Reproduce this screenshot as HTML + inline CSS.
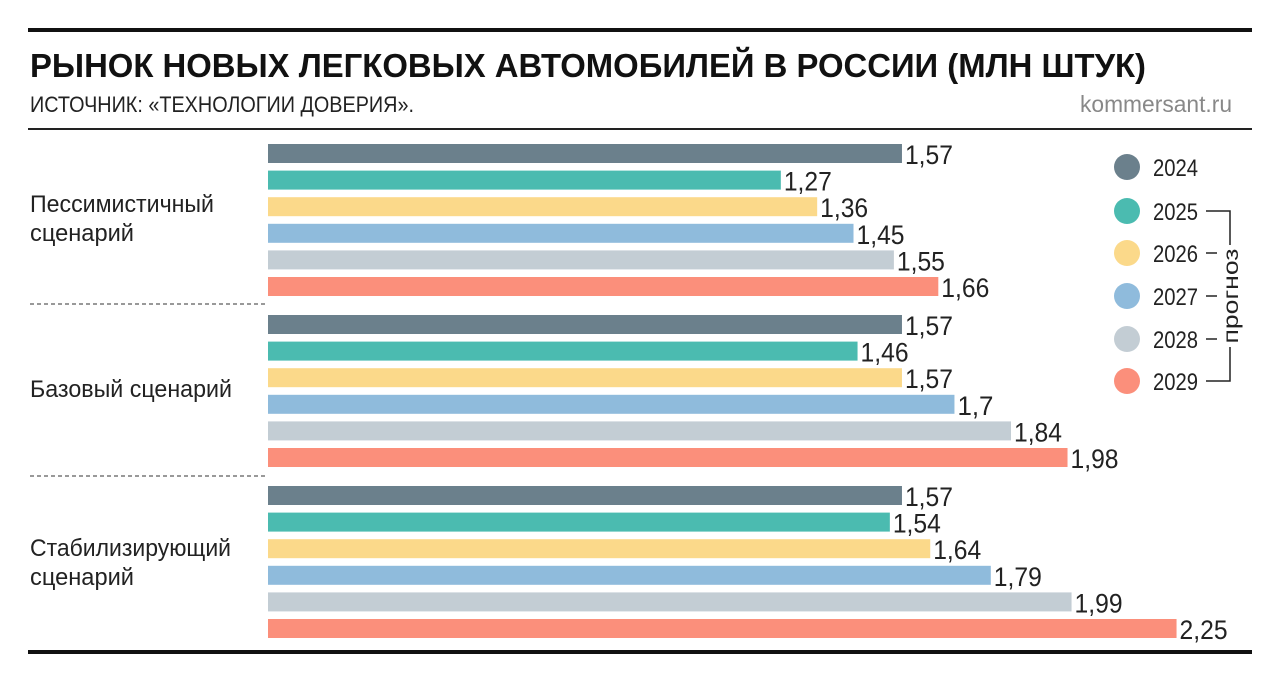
<!DOCTYPE html>
<html><head><meta charset="utf-8"><style>body{margin:0;background:#fff}svg{display:block}</style></head>
<body>
<svg width="1280" height="683" viewBox="0 0 1280 683" font-family="'Liberation Sans', sans-serif">
<rect x="28" y="28" width="1224" height="4" fill="#111"/>
<text x="30" y="77" font-size="33" font-weight="bold" textLength="1116" lengthAdjust="spacingAndGlyphs" fill="#111">РЫНОК НОВЫХ ЛЕГКОВЫХ АВТОМОБИЛЕЙ В РОССИИ (МЛН ШТУК)</text>
<text x="30" y="112" font-size="22" textLength="384" lengthAdjust="spacingAndGlyphs" fill="#222">ИСТОЧНИК: «ТЕХНОЛОГИИ ДОВЕРИЯ».</text>
<text x="1080" y="112" font-size="23" textLength="152" lengthAdjust="spacingAndGlyphs" fill="#888">kommersant.ru</text>
<rect x="28" y="128" width="1224" height="2" fill="#222"/>
<rect x="28" y="650" width="1224" height="4" fill="#111"/>
<line x1="30" y1="304" x2="268" y2="304" stroke="#333" stroke-dasharray="4,3"/>
<line x1="30" y1="476" x2="268" y2="476" stroke="#333" stroke-dasharray="4,3"/>
<g font-size="24" fill="#222">
<text x="30" y="212" textLength="184" lengthAdjust="spacingAndGlyphs">Пессимистичный</text>
<text x="30" y="241" textLength="104" lengthAdjust="spacingAndGlyphs">сценарий</text>
<text x="30" y="397" textLength="202" lengthAdjust="spacingAndGlyphs">Базовый сценарий</text>
<text x="30" y="556" textLength="201" lengthAdjust="spacingAndGlyphs">Стабилизирующий</text>
<text x="30" y="585" textLength="104" lengthAdjust="spacingAndGlyphs">сценарий</text>
</g>
<g id="bars"></g>
<g id="legend"></g>
<g stroke="#222" stroke-width="1.5" fill="none">
<polyline points="1206,211 1230,211 1230,245"/>
<polyline points="1230,347 1230,381 1206,381"/>
<line x1="1206" y1="253" x2="1217" y2="253"/>
<line x1="1206" y1="296" x2="1217" y2="296"/>
<line x1="1206" y1="339" x2="1217" y2="339"/>
</g>
<text transform="translate(1238,296) rotate(-90)" font-size="21" text-anchor="middle" textLength="95" lengthAdjust="spacingAndGlyphs" fill="#222">прогноз</text>
</svg>
<script>
const years = ["2024","2025","2026","2027","2028","2029"];
const pessimistic = [1.57,1.27,1.36,1.45,1.55,1.66];
const base = [1.57,1.46,1.57,1.7,1.84,1.98];
const stabilizing = [1.57,1.54,1.64,1.79,1.99,2.25];
const colors = ["#6b808c","#4bbbb0","#fbd98a","#8fbbdc","#c3cdd4","#fb8f7b"];
const NS="http://www.w3.org/2000/svg";
const x0=268, k=403.8;
const xs=v=>x0+v*k;
const groupTop=[144,315,486], step=26.6, bh=19;
const bars=document.getElementById('bars');
[pessimistic,base,stabilizing].forEach((ser,g)=>{
  ser.forEach((v,i)=>{
    const y=groupTop[g]+i*step;
    const r=document.createElementNS(NS,'rect');
    r.setAttribute('x',x0);r.setAttribute('y',y);
    r.setAttribute('width',xs(v)-x0);r.setAttribute('height',bh);
    r.setAttribute('fill',colors[i]);
    
    
    bars.appendChild(r);
    const t=document.createElementNS(NS,'text');
    t.setAttribute('x',xs(v)+3);t.setAttribute('y',y+bh+1);
    t.setAttribute('font-size','27');t.setAttribute('fill','#222');
    const s=String(v).replace('.',',');
    t.setAttribute('textLength',s.length*12);
    t.setAttribute('lengthAdjust','spacingAndGlyphs');
    t.textContent=s;
    
    
    bars.appendChild(t);
  });
});
const lg=document.getElementById('legend');
const ly=[167,211,253,296,339,381];
years.forEach((yr,i)=>{
  const c=document.createElementNS(NS,'circle');
  c.setAttribute('cx',1127);c.setAttribute('cy',ly[i]);c.setAttribute('r',13);
  c.setAttribute('fill',colors[i]);
  
  
  lg.appendChild(c);
  const t=document.createElementNS(NS,'text');
  t.setAttribute('x',1153);t.setAttribute('y',ly[i]+9);
  t.setAttribute('font-size','24');t.setAttribute('fill','#222');
  t.setAttribute('textLength','45');t.setAttribute('lengthAdjust','spacingAndGlyphs');
  t.textContent=yr;
  
  
  lg.appendChild(t);
});
</script>
</body></html>
